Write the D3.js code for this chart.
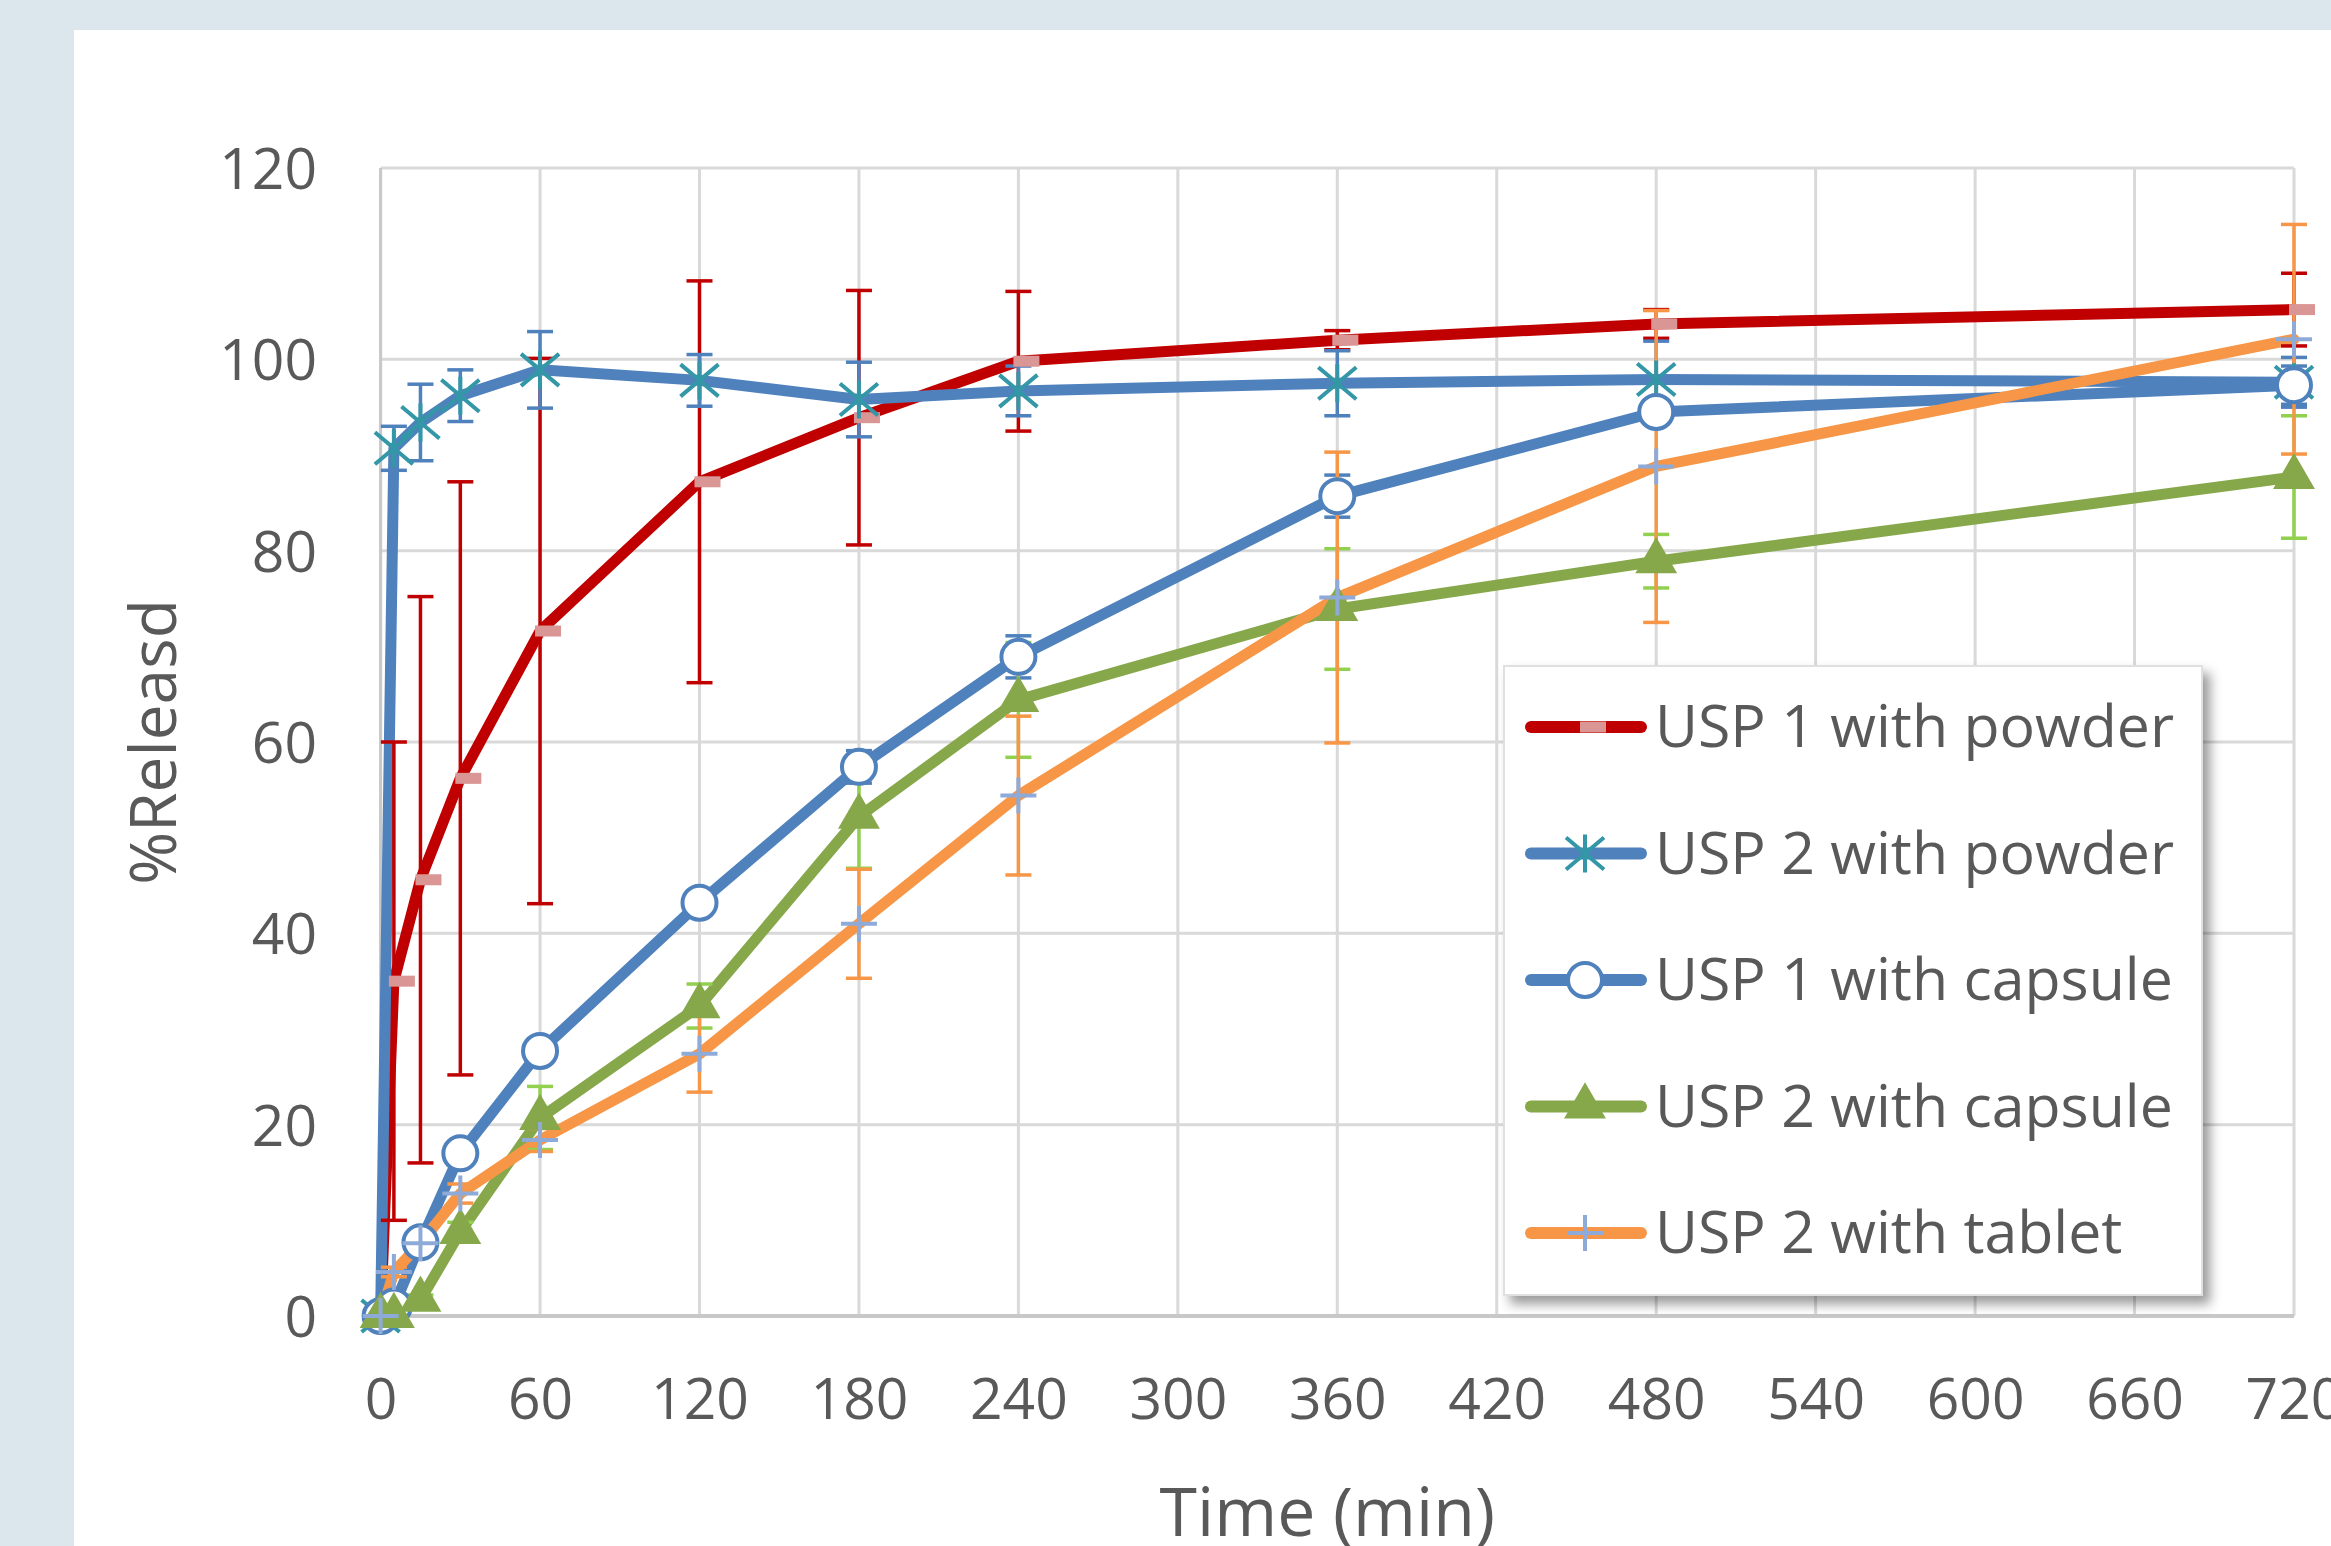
<!DOCTYPE html>
<html>
<head>
<meta charset="utf-8">
<script src="https://cdn.jsdelivr.net/npm/d3@7.9.0/dist/d3.min.js"></script>
<style>
  html, body { margin: 0; padding: 0; background: #dbe6ed; }
  svg { display: block; }
  text { font-family: "Open Sans", "Noto Sans", sans-serif; fill: #595959; }
</style>
</head>
<body>
<svg id="chart"></svg>
<script>
// sampling times (min)
const times = [0, 5, 15, 30, 60, 120, 180, 240, 360, 480, 720];

// % released, mean and error
const usp1Powder     = [0, 35.0, 45.6, 56.2, 71.6, 87.2, 93.9, 99.8, 102.0, 103.7, 105.2];
const usp1PowderErr  = [0, 25, 29.6, 31, 28.5, 21, 13.3, 7.3, 1, 1.5, 3.8];
const usp2Powder     = [0, 90.7, 93.4, 96.2, 98.9, 97.8, 95.8, 96.7, 97.5, 97.9, 97.6];
const usp2PowderErr  = [0, 2.3, 4, 2.7, 4, 2.7, 3.9, 2.6, 3.4, 4, 2.6];
const usp1Capsule    = [0, 1.0, 7.7, 17.0, 27.7, 43.2, 57.4, 68.9, 85.7, 94.5, 97.3];
const usp1CapsuleErr = [0, 0, 0.5, 0.8, 1, 1, 1.7, 2.2, 2.2, 1, 2];
const usp2Capsule    = [0, 0, 1.7, 8.8, 20.7, 32.4, 52.2, 64.4, 73.9, 78.9, 87.7];
const usp2CapsuleErr = [0, 0, 0.5, 1, 3.3, 2.3, 5.4, 6, 6.3, 2.8, 6.4];
const usp2Tablet     = [0, 4.6, 7.6, 12.8, 18.4, 27.4, 41.0, 54.4, 75.1, 88.8, 102.1];
const usp2TabletErr  = [0, 0.5, 0.5, 1, 1.2, 4, 5.7, 8.3, 15.2, 16.3, 12];

const seriesNames = ["USP 1 with powder", "USP 2 with powder", "USP 1 with capsule",
                     "USP 2 with capsule", "USP 2 with tablet"];
const xTicks = d3.range(0, 721, 60);
const yTicks = d3.range(0, 121, 20);

const W = 2331, H = 1546;
const plotL = 380.6, plotR = 2294, plotT = 168, plotB = 1316;

const svg = d3.select("#chart").attr("width", W).attr("height", H);

// background panel
svg.append("rect").attr("width", W).attr("height", H).attr("fill", "#dbe6ed");
svg.append("rect").attr("x", 74).attr("y", 30).attr("width", W - 74).attr("height", H - 30).attr("fill", "#fff");

const x = d3.scaleLinear().domain([0, 720]).range([plotL, plotR]);
const y = d3.scaleLinear().domain([0, 120]).range([plotB, plotT]);

// marker shapes
const markers = {
  dash: g => g.append("rect").attr("x", -5).attr("y", -5.5).attr("width", 26).attr("height", 11)
              .attr("fill", "#d99694"),
  star: g => g.append("path").attr("d", "M0,-19V19M-19,-16L19,16M-19,16L19,-16")
              .attr("stroke", "#3497a8").attr("stroke-width", 4).attr("fill", "none"),
  circle: g => g.append("circle").attr("r", 17).attr("fill", "#fff")
              .attr("stroke", "#4f81bd").attr("stroke-width", 4),
  triangle: g => g.append("path").attr("d", d3.symbol(d3.symbolTriangle, 760)())
              .attr("fill", "#86a84a"),
  plus: g => g.append("path").attr("d", "M0,-18V18M-18,0H18")
              .attr("stroke", "#8eaad8").attr("stroke-width", 4).attr("fill", "none")
};

const series = [
  { name: seriesNames[0], vals: usp1Powder,  err: usp1PowderErr,  color: "#c00000", errColor: "#c00000", marker: "dash" },
  { name: seriesNames[1], vals: usp2Powder,  err: usp2PowderErr,  color: "#4f81bd", errColor: "#4f81bd", marker: "star" },
  { name: seriesNames[2], vals: usp1Capsule, err: usp1CapsuleErr, color: "#4f81bd", errColor: "#4f81bd", marker: "circle" },
  { name: seriesNames[3], vals: usp2Capsule, err: usp2CapsuleErr, color: "#86a84a", errColor: "#92d050", marker: "triangle" },
  { name: seriesNames[4], vals: usp2Tablet,  err: usp2TabletErr,  color: "#f79646", errColor: "#f79646", marker: "plus" }
];

// gridlines
const grid = svg.append("g");
grid.selectAll(".gy").data(yTicks).enter().append("line")
  .attr("x1", plotL).attr("x2", plotR).attr("y1", d => y(d)).attr("y2", d => y(d))
  .attr("stroke", "#d9d9d9").attr("stroke-width", 3);
grid.selectAll(".gx").data(xTicks).enter().append("line")
  .attr("y1", plotT).attr("y2", plotB).attr("x1", d => x(d)).attr("x2", d => x(d))
  .attr("stroke", "#d9d9d9").attr("stroke-width", 3);
// axis lines
svg.append("line").attr("x1", plotL).attr("x2", plotL).attr("y1", plotT).attr("y2", plotB)
  .attr("stroke", "#c8c8c8").attr("stroke-width", 3);
svg.append("line").attr("x1", plotL).attr("x2", plotR).attr("y1", plotB).attr("y2", plotB)
  .attr("stroke", "#c8c8c8").attr("stroke-width", 4);

// tick labels via d3 axes
const yAxis = svg.append("g").attr("transform", "translate(317,0)")
  .call(d3.axisLeft(y).tickValues(yTicks).tickSize(0).tickPadding(0));
yAxis.select(".domain").remove();
yAxis.selectAll("text").attr("font-size", 57).attr("dy", "0.36em")
  .style("font-family", '"Open Sans", sans-serif').attr("fill", "#595959");

const xAxis = svg.append("g").attr("transform", `translate(0,${plotB})`)
  .call(d3.axisBottom(x).tickValues(xTicks).tickSize(0).tickPadding(0));
xAxis.select(".domain").remove();
xAxis.selectAll("text").attr("font-size", 57).attr("y", 103).attr("dy", 0)
  .style("font-family", '"Open Sans", sans-serif').attr("fill", "#595959");

// axis titles
svg.append("text").attr("x", (plotL + plotR) / 2 - 10).attr("y", 1536)
  .attr("text-anchor", "middle").attr("font-size", 68).text("Time (min)");
svg.append("text").attr("transform", `translate(176,${(plotT + plotB) / 2}) rotate(-90)`)
  .attr("text-anchor", "middle").attr("font-size", 64).text("%Releasd");

const line = d3.line().x((d, i) => x(times[i])).y(d => y(d));

// lines
svg.append("g").selectAll("path").data(series).enter().append("path")
  .attr("d", s => line(s.vals)).attr("fill", "none")
  .attr("stroke", s => s.color).attr("stroke-width", 11)
  .attr("stroke-linejoin", "round").attr("stroke-linecap", "round");

// error bars
series.forEach(s => {
  const g = svg.append("g").attr("stroke", s.errColor).attr("stroke-width", 3.5);
  s.vals.forEach((v, i) => {
    const e = s.err[i];
    if (!e) return;
    const cx = x(times[i]);
    g.append("line").attr("x1", cx).attr("x2", cx).attr("y1", y(v - e)).attr("y2", y(v + e));
    [v - e, v + e].forEach(t => g.append("line")
      .attr("x1", cx - 13).attr("x2", cx + 13).attr("y1", y(t)).attr("y2", y(t)));
  });
});

// markers
series.forEach(s => {
  s.vals.forEach((v, i) => {
    const g = svg.append("g").attr("transform", `translate(${x(times[i])},${y(v)})`);
    markers[s.marker](g);
  });
});

// legend
const defs = svg.append("defs");
const f = defs.append("filter").attr("id", "shadow").attr("x", "-10%").attr("y", "-10%")
  .attr("width", "130%").attr("height", "130%");
f.append("feDropShadow").attr("dx", 7).attr("dy", 8).attr("stdDeviation", 6)
  .attr("flood-color", "#000").attr("flood-opacity", 0.4);

const lg = svg.append("g");
lg.append("rect").attr("x", 1504).attr("y", 666).attr("width", 698).attr("height", 629)
  .attr("fill", "#fff").attr("stroke", "#e0e0e0").attr("stroke-width", 2)
  .attr("filter", "url(#shadow)");

const rowY = d3.scaleLinear().domain([0, 4]).range([727, 1233]);
series.forEach((s, i) => {
  const ry = rowY(i);
  lg.append("line").attr("x1", 1531).attr("x2", 1641).attr("y1", ry).attr("y2", ry)
    .attr("stroke", s.color).attr("stroke-width", 12).attr("stroke-linecap", "round");
  const g = lg.append("g").attr("transform", `translate(1585,${ry})`);
  markers[s.marker](g);
  lg.append("text").attr("x", 1655).attr("y", ry + 20).attr("font-size", 59).text(s.name);
});
</script>
</body>
</html>
